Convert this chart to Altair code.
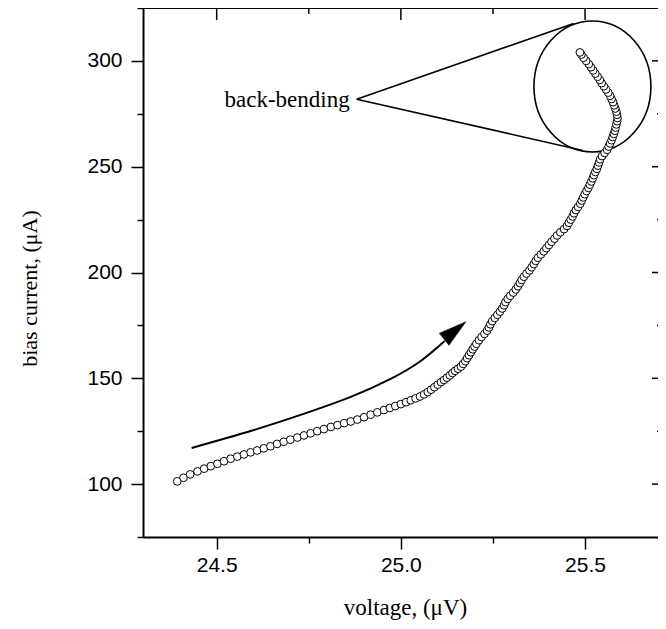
import altair as alt
import pandas as pd

# ---------------- data ----------------
volt = [
    24.393, 24.410, 24.428, 24.448, 24.466, 24.484, 24.502, 24.520, 24.538, 24.556,
    24.574, 24.592, 24.610, 24.628, 24.646, 24.664, 24.682, 24.700, 24.719, 24.737,
    24.755, 24.773, 24.791, 24.810, 24.828, 24.846, 24.864, 24.882, 24.900, 24.918,
    24.936, 24.954, 24.970, 24.985, 25.000, 25.014, 25.027, 25.040, 25.052, 25.063,
    25.073, 25.082, 25.091, 25.100, 25.109, 25.117, 25.125, 25.133, 25.140, 25.147,
    25.155, 25.163, 25.169, 25.175, 25.180, 25.185, 25.190, 25.195, 25.200, 25.205,
    25.212, 25.219, 25.227, 25.234, 25.239, 25.243, 25.248, 25.255, 25.262, 25.269,
    25.275, 25.280, 25.284, 25.290, 25.297, 25.305, 25.312, 25.318, 25.323, 25.328,
    25.334, 25.341, 25.349, 25.355, 25.361, 25.366, 25.372, 25.380, 25.388, 25.395,
    25.402, 25.409, 25.417, 25.424, 25.433, 25.443, 25.451, 25.456, 25.461, 25.466,
    25.470, 25.475, 25.481, 25.487, 25.491, 25.495, 25.499, 25.504, 25.509, 25.513,
    25.517, 25.521, 25.524, 25.528, 25.532, 25.535, 25.538, 25.541, 25.546, 25.553,
    25.560, 25.564, 25.568, 25.572, 25.575, 25.578, 25.581, 25.583, 25.585, 25.587,
    25.588, 25.587, 25.585, 25.582, 25.579, 25.576, 25.572, 25.568, 25.563, 25.557,
    25.551, 25.545, 25.540, 25.534, 25.528, 25.522, 25.516, 25.510, 25.503, 25.496,
    25.490, 25.486,
]
curr = [
    101.3, 103.0, 104.6, 106.0, 107.3, 108.5, 109.6, 110.8, 112.0, 113.0,
    114.0, 115.0, 115.9, 116.9, 117.9, 119.0, 120.0, 121.0, 122.0, 123.0,
    124.0, 125.0, 126.0, 127.0, 127.9, 128.8, 129.6, 130.5, 131.6, 132.8,
    133.9, 135.0, 136.0, 136.9, 137.8, 138.7, 139.6, 140.5, 141.4, 142.4,
    143.5, 144.6, 145.8, 147.0, 148.2, 149.2, 150.3, 151.4, 152.5, 153.5,
    154.5, 155.5, 156.8, 158.1, 159.5, 160.9, 162.3, 163.7, 165.0, 166.3,
    168.0, 169.5, 171.0, 172.5, 174.0, 175.5, 177.0, 178.5, 180.0, 181.5,
    183.0, 184.5, 186.0, 187.5, 189.0, 190.5, 192.0, 193.5, 195.0, 196.5,
    198.0, 199.5, 201.0, 202.5, 204.0, 205.5, 207.0, 208.5, 210.0, 211.5,
    213.0, 214.5, 216.0, 217.5, 219.0, 220.5, 222.0, 223.5, 225.0, 226.5,
    228.0, 229.5, 231.0, 232.5, 234.0, 235.5, 237.0, 238.5, 240.0, 241.5,
    243.0, 244.5, 246.0, 247.5, 249.0, 250.5, 252.0, 253.5, 255.0, 256.5,
    258.0, 259.5, 261.0, 262.5, 264.0, 265.5, 267.0, 268.5, 270.0, 271.5,
    273.0, 274.5, 276.0, 277.5, 279.0, 280.5, 282.0, 283.5, 285.0, 286.5,
    288.0, 289.5, 291.0, 292.5, 294.0, 295.5, 297.0, 298.5, 300.0, 301.5,
    303.0, 304.0,
]

# arrow (shaft points and head)
arrow_v = [24.432, 24.592, 24.728, 24.864, 24.972, 25.054, 25.119]
arrow_i = [117.1, 125.1, 132.7, 141.2, 149.7, 158.2, 167.6]
head_v, head_i, head_angle = 25.147, 172.6, 321

# "back-bending" callout
label_v, label_i = 24.861, 278.2
callout_from = (24.880, 281.9)
callout_to_v = [25.469, 25.494]
callout_to_i = [317.7, 257.7]
ellipse_v, ellipse_i = 25.520, 287.9

# axes
X_DOMAIN = [24.3, 25.698]
Y_DOMAIN = [75, 325]
X_TICKS = [24.5, 24.75, 25.0, 25.25, 25.5]
X_MAJOR = [24.5, 25.0, 25.5]
X_MINOR = [24.75, 25.25]
Y_TICKS = [75, 100, 125, 150, 175, 200, 225, 250, 275, 300, 325]
Y_MAJOR = [100, 150, 200, 250, 300]
Y_MINOR = [125, 175, 225, 275]

W, H = 515, 529

xs = alt.Scale(domain=X_DOMAIN, nice=False, zero=False)
ys = alt.Scale(domain=Y_DOMAIN, nice=False, zero=False)

x_major_test = "abs(datum.value * 2 - round(datum.value * 2)) < 0.001"
y_major_test = "datum.value % 50 == 0"

xaxis = alt.Axis(
    values=X_TICKS, format=".1f",
    labelExpr=f"({x_major_test}) ? datum.label : ''",
    tickSize={"condition": {"test": x_major_test, "value": 12}, "value": 6},
    tickWidth=1.5, tickColor="black", domainColor="black", domainWidth=2,
    labelFont="Liberation Sans", labelFontSize=21, labelColor="black",
    labelPadding=5, labelOverlap=False, labelFlush=False, grid=False,
    title="voltage, (μV)", titleFont="Liberation Serif", titleFontSize=23,
    titleFontWeight="normal", titleColor="black",
    titleX=262, titleY=77, titleBaseline="alphabetic",
)
yaxis = alt.Axis(
    values=Y_TICKS, format="d",
    labelExpr=f"({y_major_test}) ? datum.label : ''",
    tickSize={"condition": {"test": y_major_test, "value": 12}, "value": 6},
    tickWidth=1.5, tickColor="black", domainColor="black", domainWidth=2,
    labelFont="Liberation Sans", labelFontSize=21, labelColor="black",
    labelPadding=9, labelOverlap=False, labelFlush=False, grid=False,
    title="bias current, (μA)", titleFont="Liberation Serif", titleFontSize=22,
    titleFontWeight="normal", titleColor="black",
    titleX=-114, titleY=280, titleAngle=270, titleBaseline="middle",
)

df = pd.DataFrame({"v": volt, "i": curr, "k": range(len(volt))})
points = alt.Chart(df).mark_point(
    shape="circle", fill="white", stroke="black", strokeWidth=1,
    size=60, opacity=1, fillOpacity=1,
).encode(
    x=alt.X("v:Q", scale=xs, axis=xaxis),
    y=alt.Y("i:Q", scale=ys, axis=yaxis),
    order=alt.Order("k:Q"),
)

arrow_df = pd.DataFrame({"v": arrow_v, "i": arrow_i, "k": range(len(arrow_v))})
shaft = alt.Chart(arrow_df).mark_line(
    color="black", strokeWidth=2, interpolate="natural"
).encode(
    x=alt.X("v:Q", scale=xs, axis=xaxis),
    y=alt.Y("i:Q", scale=ys, axis=yaxis),
    order="k:Q",
)
head = alt.Chart(pd.DataFrame({"v": [head_v], "i": [head_i]})).mark_point(
    shape="M1,0L-1,-0.55L-1,0.55Z", filled=True, fill="black", stroke="black",
    strokeWidth=0.5, size=780, opacity=1, angle=head_angle,
).encode(
    x=alt.X("v:Q", scale=xs, axis=xaxis),
    y=alt.Y("i:Q", scale=ys, axis=yaxis),
)

ellipse = alt.Chart(pd.DataFrame({"v": [ellipse_v], "i": [ellipse_i]})).mark_point(
    shape="M-0.893,0A0.893,1 0 1,1 0.893,0A0.893,1 0 1,1 -0.893,0Z",
    filled=False, stroke="black", strokeWidth=1.6, size=131 * 131, opacity=1,
).encode(
    x=alt.X("v:Q", scale=xs, axis=xaxis),
    y=alt.Y("i:Q", scale=ys, axis=yaxis),
)

callout_df = pd.DataFrame({
    "v": [callout_from[0]] * 2, "i": [callout_from[1]] * 2,
    "v2": callout_to_v, "i2": callout_to_i,
})
callout = alt.Chart(callout_df).mark_rule(color="black", strokeWidth=1.6).encode(
    x=alt.X("v:Q", scale=xs, axis=xaxis),
    y=alt.Y("i:Q", scale=ys, axis=yaxis),
    x2="v2:Q", y2="i2:Q",
)

label = alt.Chart(pd.DataFrame({"v": [label_v], "i": [label_i], "t": ["back-bending"]})).mark_text(
    font="Liberation Serif", fontSize=23, color="black", align="right", baseline="alphabetic",
).encode(
    x=alt.X("v:Q", scale=xs, axis=xaxis),
    y=alt.Y("i:Q", scale=ys, axis=yaxis),
    text="t:N",
)

# frame: top line with inward ticks, right-side inward ticks
top_line = alt.Chart(pd.DataFrame({"a": [0]})).mark_rule(color="black", strokeWidth=2).encode(
    x=alt.value(0), x2=alt.value(W), y=alt.value(0)
)
top_major = alt.Chart(pd.DataFrame({"v": X_MAJOR})).mark_rule(color="black", strokeWidth=1.5).encode(
    x=alt.X("v:Q", scale=xs, axis=xaxis), y=alt.value(0), y2=alt.value(12)
)
top_minor = alt.Chart(pd.DataFrame({"v": X_MINOR})).mark_rule(color="black", strokeWidth=1.5).encode(
    x=alt.X("v:Q", scale=xs, axis=xaxis), y=alt.value(0), y2=alt.value(6)
)
right_major = alt.Chart(pd.DataFrame({"i": Y_MAJOR})).mark_rule(color="black", strokeWidth=1.5).encode(
    y=alt.Y("i:Q", scale=ys, axis=yaxis), x=alt.value(W - 6), x2=alt.value(W + 6)
)
right_minor = alt.Chart(pd.DataFrame({"i": Y_MINOR})).mark_rule(color="black", strokeWidth=1.5).encode(
    y=alt.Y("i:Q", scale=ys, axis=yaxis), x=alt.value(W - 1), x2=alt.value(W + 6)
)

chart = alt.layer(
    top_line, top_major, top_minor, right_major, right_minor,
    shaft, head, callout, ellipse, label, points,
).properties(
    width=W, height=H, autosize="none",
    padding={"left": 135, "top": 0, "right": 0, "bottom": 92},
    background="white",
).configure_view(stroke="transparent", strokeWidth=0)

chart.save("out.html", embed_options={"renderer": "svg", "actions": False})
